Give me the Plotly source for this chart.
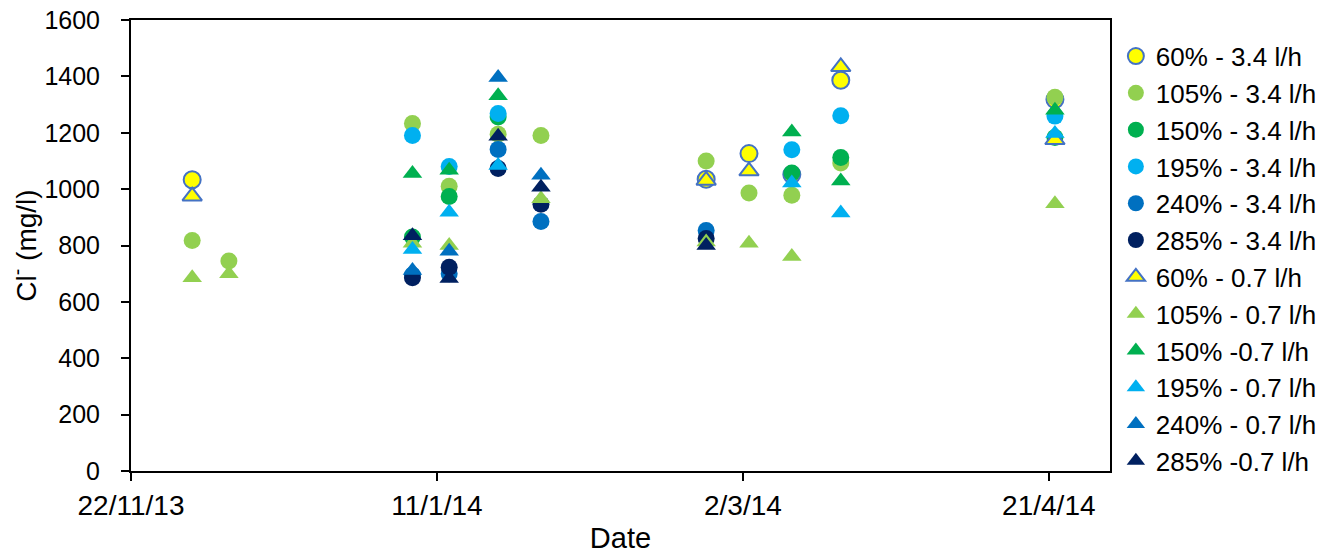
import plotly.graph_objects as go

dates = ["2013-12-02", "2013-12-08", "2014-01-07", "2014-01-13", "2014-01-21",
         "2014-01-28", "2014-02-24", "2014-03-03", "2014-03-10", "2014-03-18",
         "2014-04-22"]

# Cl- (mg/l) per series; None = no sample
s60_34 = [1033, None, None, None, None, None, 1035, 1126, 1052, 1386, 1318]
s105_34 = [818, 745, 1233, 1010, 1195, 1190, 1100, 986, 978, 1093, 1326]
s150_34 = [None, None, 830, 974, 1256, None, None, None, 1057, 1112, 1183]
s195_34 = [None, None, 1190, 1080, 1268, None, None, None, 1140, 1260, 1259]
s240_34 = [None, None, 695, 700, 1141, 885, 853, None, None, None, None]
s285_34 = [None, None, 686, 723, 1073, 946, 825, None, None, None, None]

s60_07 = [975, None, None, None, None, None, 1031, 1064, None, 1434, 1175]
s105_07 = [686, 700, 808, 800, None, 966, 812, 808, 761, None, 948]
s150_07 = [None, None, 1055, 1067, 1331, None, None, None, 1203, 1029, 1280]
s195_07 = [None, None, 786, 918, 1084, None, None, None, 1022, 915, 1197]
s240_07 = [None, None, 711, 780, 1396, 1049, None, None, None, None, None]
s285_07 = [None, None, 835, 683, 1188, 1007, 800, None, None, None, None]

names = ["60% - 3.4 l/h", "105% - 3.4 l/h", "150% - 3.4 l/h", "195% - 3.4 l/h",
         "240% - 3.4 l/h", "285% - 3.4 l/h", "60% - 0.7 l/h", "105% - 0.7 l/h",
         "150% -0.7 l/h", "195% - 0.7 l/h", "240% - 0.7 l/h", "285% -0.7 l/h"]
series = [s60_34, s105_34, s150_34, s195_34, s240_34, s285_34,
          s60_07, s105_07, s150_07, s195_07, s240_07, s285_07]
colors = ["#FFFF00", "#92D050", "#00B050", "#00B0F0", "#0070C0", "#002060"] * 2
symbols = ["circle"] * 6 + ["triangle-up"] * 6

fig = go.Figure()
for i, (nm, ys) in enumerate(zip(names, series)):
    outlined = colors[i] == "#FFFF00"
    fig.add_trace(go.Scatter(
        x=dates, y=ys, name=nm, mode="markers",
        marker=dict(
            symbol=symbols[i],
            size=17,
            color=colors[i],
            line=dict(color="#4472C4" if outlined else colors[i], width=2 if outlined else 0),
        ),
    ))

font_family = "Liberation Sans, Arial, sans-serif"
fig.update_layout(
    width=1333, height=554,
    margin=dict(l=131, r=223, t=20, b=83, autoexpand=False),
    paper_bgcolor="white", plot_bgcolor="white",
    font=dict(family=font_family, size=26, color="#000000"),
    showlegend=True,
    legend=dict(x=1.006, xanchor="left", y=0.972, yanchor="top",
                font=dict(size=26, color="#000000"),
                tracegroupgap=0, itemwidth=30, maxheight=540,
                bgcolor="rgba(0,0,0,0)"),
    xaxis=dict(
        type="date",
        range=["2013-11-22", "2014-05-01"],
        tick0="2013-11-22", dtick=50 * 86400000,
        tickformat="%-d/%-m/%y",
        showgrid=False, zeroline=False,
        showline=True, linecolor="#000000", linewidth=2, mirror=True,
        ticks="outside", ticklen=8, tickwidth=1.5, tickcolor="#000000",
        tickfont=dict(size=28), ticklabelstandoff=0,
        title=dict(text="Date", font=dict(size=29), standoff=16),
    ),
    yaxis=dict(
        range=[0, 1600], dtick=200,
        showgrid=False, zeroline=False,
        showline=True, linecolor="#000000", linewidth=2, mirror=True,
        ticks="outside", ticklen=8, tickwidth=1.5, tickcolor="#000000",
        tickfont=dict(size=25), ticklabelstandoff=16,
        title=dict(text="Cl<sup>-</sup> (mg/l)", font=dict(size=28), standoff=0),
    ),
)

fig.write_html("out.html")
